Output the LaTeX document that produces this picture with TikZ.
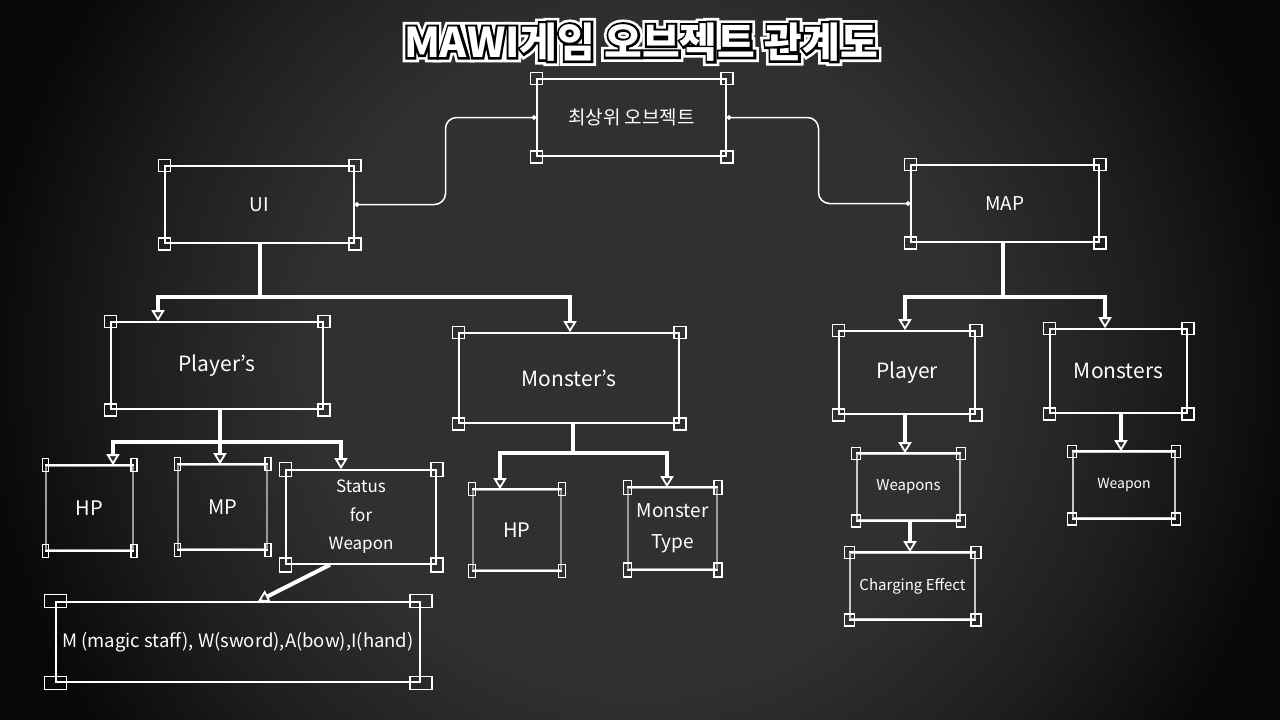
\documentclass[tikz,border=0pt]{standalone}
\usepackage{fontspec}
\setmainfont{Noto Sans CJK KR}
\newfontfamily\glowfont{Noto Sans CJK KR}[BoldFeatures={FakeBold=24}]
\newfontfamily\rimfont{Noto Sans CJK KR}[BoldFeatures={FakeBold=11}]
\usetikzlibrary{arrows.meta,positioning,calc}

\definecolor{bgmid}{HTML}{303030}
\definecolor{bgdim}{HTML}{1E1E1E}
\definecolor{bgedge}{HTML}{080808}
\definecolor{sidegray}{HTML}{9A9A9A}
\definecolor{sidelight}{HTML}{C8C8C8}
\pgfdeclareradialshading{backdrop}{\pgfpointorigin}{color(0bp)=(bgmid); color(12.5bp)=(bgmid); color(19bp)=(bgdim); color(25bp)=(bgedge); color(50bp)=(bgedge)}
\newcommand\mawititle{MAWI게임 오브젝트 관계도}

\begin{document}
\begin{tikzpicture}[x=1pt, y=-1pt,
    box/.style={rectangle, draw=white, line width=1.6pt, text=white, align=center,
                inner sep=0pt, font=\fontsize{21}{25}\selectfont},
    grip/.style={draw=white, line width=1.4pt},
    link/.style={draw=white, line width=1.5pt, rounded corners=11pt,
                 {Circle[length=4.5pt]}-{Circle[length=4.5pt]}},
    trunk/.style={draw=white, line width=4pt},
    arrow/.style={trunk, -{Triangle[length=11pt, width=13pt, line width=1.8pt, fill=bgmid]}},
    headline/.style={font=\fontsize{41}{44}\selectfont\bfseries}
  ]
    % backdrop
    \useasboundingbox (0,0) rectangle (1280,720);
    \begin{scope}
      \clip (0,0) rectangle (1280,720);
      \shade[shading=backdrop] (-20,-300) rectangle (1300,1020);
    \end{scope}

    % title with outline
    \node[headline, text=white, font=\glowfont\fontsize{41}{44}\selectfont\bfseries] (glow) at (641,42) {\mawititle};
    \node[headline, text=black, font=\rimfont\fontsize{41}{44}\selectfont\bfseries] (rim) at (641,42) {\mawititle};
    \node[headline, text=white] (title) at (641,42) {\mawititle};

    % boxes
    \node[box, minimum width=189, minimum height=77, font=\fontsize{19}{22}\selectfont] (top) at (631.5,117.5) {최상위 오브젝트};
    \node[box, minimum width=189, minimum height=77, font=\fontsize{19}{22}\selectfont] (ui) at (259.5,204.5) {UI};
    \node[box, minimum width=188, minimum height=77, font=\fontsize{19}{22}\selectfont] (map) at (1005,203.5) {MAP};
    \node[box, minimum width=212, minimum height=87] (uiplayer) at (217,365.5) {Player's};
    \node[box, minimum width=220, minimum height=90] (uimonster) at (569,378) {Monster's};
    \node[box, minimum width=136, minimum height=83] (mapplayer) at (907,372.5) {Player};
    \node[box, minimum width=137, minimum height=84] (mapmonsters) at (1118.5,371) {Monsters};
    \node[box, draw=sidegray, minimum width=87, minimum height=84, font=\fontsize{20}{24}\selectfont] (uihp) at (89.5,508) {HP};
    \node[box, draw=sidegray, minimum width=89, minimum height=84, font=\fontsize{20}{24}\selectfont] (uimp) at (222.5,507) {MP};
    \node[box, minimum width=150, minimum height=94, font=\fontsize{17}{28.5}\selectfont] (status) at (361,517) {Status\\for\\Weapon};
    \node[box, minimum width=364, minimum height=80, font=\fontsize{18.5}{22}\selectfont] (weaponlist) at (238,642) {M (magic staff), W(sword),A(bow),I(hand)};
    \node[box, draw=sidegray, minimum width=88, minimum height=80, font=\fontsize{20}{24}\selectfont] (monhp) at (517,530) {HP};
    \node[box, draw=sidegray, minimum width=89, minimum height=81, font=\fontsize{19}{31}\selectfont] (montype) at (672.5,528.5) {Monster\\Type};
    \node[box, draw=sidelight, minimum width=103, minimum height=66, font=\fontsize{15}{18}\selectfont] (weapons) at (908.5,487) {Weapons};
    \node[box, draw=sidelight, minimum width=102, minimum height=66, font=\fontsize{14}{17}\selectfont] (weapon) at (1124,485) {Weapon};
    \node[box, draw=sidelight, minimum width=125, minimum height=66, font=\fontsize{15}{18}\selectfont] (charging) at (912.5,586) {Charging Effect};

    % white top and bottom edges on the grey-sided boxes
    \foreach \n in {uihp, uimp, monhp, montype, weapons, weapon, charging}
      \draw[white, line width=1.6pt] (\n.north west) -- (\n.north east) (\n.south west) -- (\n.south east);

    % corner grips
    \foreach \n/\w/\h in {top/12/12, ui/12/12, map/12/12, uiplayer/12/12, uimonster/12/12,
        mapplayer/12/12, mapmonsters/12/12, uihp/6/13, uimp/6/13, status/12/14,
        weaponlist/22/13, monhp/7/13, montype/8/14, weapons/9/12, weapon/9/12, charging/10/12}
      \foreach \c in {north west, north east, south west, south east}
        \draw[grip] ([shift={(-\w/2,-\h/2)}]\n.\c) rectangle ++(\w,\h);

    % links from the top object
    \draw[link] (top.west) -| ($(top.west)!.5!(ui.east)$) |- (ui.east);
    \draw[link] (top.east) -| ($(top.east)!.5!(map.west)$) |- (map.west);

    % UI branch
    \draw[trunk] (ui.south) -- ++(0,53) coordinate (uibar);
    \draw[arrow] (uibar) -| ([xshift=-59pt]uiplayer.north);
    \draw[arrow] (uibar) -| ([xshift=1pt]uimonster.north);

    \draw[trunk] ([xshift=3pt]uiplayer.south) -- ++(0,32) coordinate (pbar);
    \foreach \b/\s in {uihp/23.5, uimp/-2.5, status/-20}
      \draw[arrow] (pbar) -| ([xshift=\s pt]\b.north);
    \draw[arrow] ([xshift=-31pt]status.south) -- ([xshift=20pt]weaponlist.north);

    \draw[trunk] ([xshift=4pt]uimonster.south) -- ++(0,29) coordinate (mbar);
    \foreach \b/\s in {monhp/-17, montype/-5.5}
      \draw[arrow] (mbar) -| ([xshift=\s pt]\b.north);

    % MAP branch
    \draw[trunk] ([xshift=-2pt]map.south) -- ++(0,54) coordinate (mapbar);
    \foreach \b/\s in {mapplayer/-2, mapmonsters/-13.5}
      \draw[arrow] (mapbar) -| ([xshift=\s pt]\b.north);

    \draw[arrow] ([xshift=-2pt]mapplayer.south) -- ([xshift=-2pt]mapplayer.south |- weapons.north);
    \draw[arrow] ([xshift=2.5pt]mapmonsters.south) -- ([xshift=2.5pt]mapmonsters.south |- weapon.north);
    \draw[arrow] ([xshift=1.5pt]weapons.south) -- ([xshift=1.5pt]weapons.south |- charging.north);
\end{tikzpicture}
\end{document}
